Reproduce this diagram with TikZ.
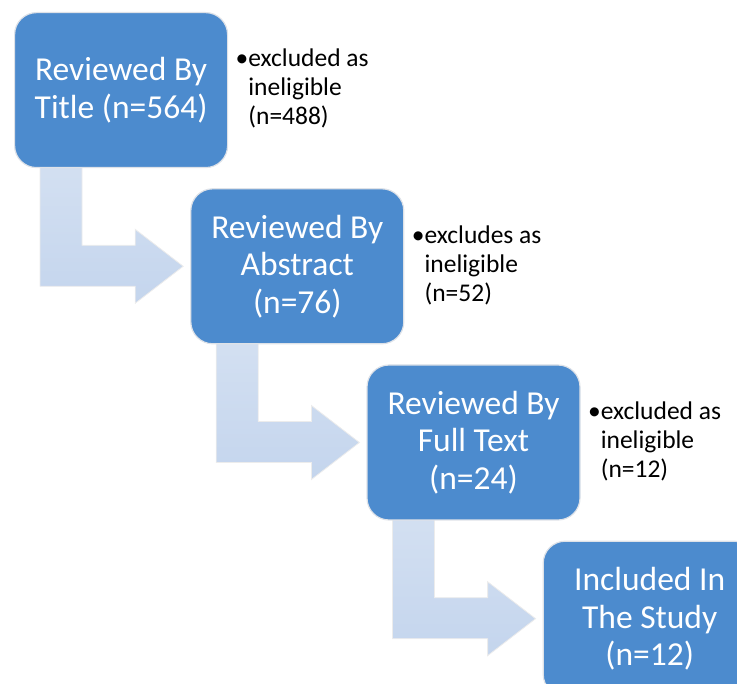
\documentclass[tikz,border=0pt]{standalone}
\usepackage{fontspec}
\setmainfont{Carlito}
\usepackage{tikz}
\usetikzlibrary{calc,positioning,backgrounds}
\definecolor{stageblue}{RGB}{76,139,206}
\definecolor{arrowblue}{RGB}{196,213,237}
\definecolor{edgegrey}{RGB}{222,226,232}
\tikzset{
  stage/.style={
    rounded corners=22pt,
    draw=edgegrey,
    line width=1.2pt,
    fill=stageblue,
    text=white,
    align=center,
    minimum width=213pt,
    minimum height=155pt,
    inner sep=0pt,
    font=\fontsize{33.5}{37.5}\selectfont
  },
  note/.style={
    align=left,
    inner sep=0pt,
    anchor=north west,
    font=\fontsize{25.5}{29}\selectfont
  },
  bendarrow/.style={
    draw=white!85!gray,
    line width=.8pt,
    top color=arrowblue!75!white,
    bottom color=arrowblue
  }
}
\begin{document}
\begin{tikzpicture}[x=1pt,y=-1pt,node distance=20pt and -38pt]
\useasboundingbox (0,0) rectangle (737,684);
\node[stage,anchor=north west] (t) at (14,12) {Reviewed By\\Title (n=564)};
\node[stage,below right=of t] (a) {Reviewed By\\Abstract\\(n=76)};
\node[stage,below right=of a] (f) {Reviewed By\\Full Text\\(n=24)};
\node[stage,below right=of f] (s) {Included In\\The Study\\(n=12)};
% exclusion notes
\node[note,below right=37pt and 20pt of t.north east] (nt) {\llap{\textbullet}excluded as\\ineligible\\(n=488)};
\node[note,below right=37pt and 20pt of a.north east] (na) {\llap{\textbullet}excludes as\\ineligible\\(n=52)};
\node[note,below right=37pt and 20pt of f.north east] (nf) {\llap{\textbullet}excluded as\\ineligible\\(n=12)};
% bent arrows
\begin{scope}[on background layer]
\foreach \src/\dst in {t/a,a/f,f/s}
  \path[bendarrow] let \p1=(\src.south west), \p2=(\dst.west) in
    (\x1+26pt,\y1+2pt) -- (\x1+26pt,\y2-20pt) -- (\x2-55pt,\y2-20pt)
    -- (\x2-55pt,\y2-37pt) -- (\x2-7pt,\y2) -- (\x2-55pt,\y2+37pt)
    -- (\x2-55pt,\y2+21pt) -- (\x1+68pt,\y2+21pt) -- (\x1+68pt,\y1+2pt) -- cycle;
\end{scope}
\end{tikzpicture}
\end{document}
